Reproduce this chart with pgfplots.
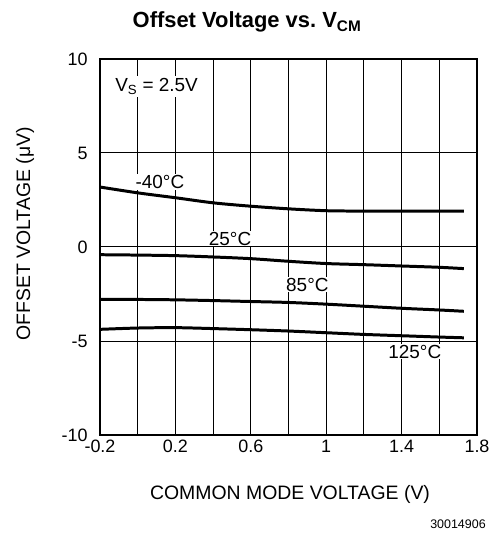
\documentclass[border=0pt]{standalone}
\usepackage{fontspec}
\setmainfont{Liberation Sans}
\usepackage{pgfplots}
\pgfplotsset{compat=1.18}
\begin{document}
\begin{tikzpicture}
\useasboundingbox (0bp,0bp) rectangle (491bp,533bp);
\begin{axis}[at={(100bp,98bp)}, anchor=south west, scale only axis,
  width=377bp, height=376bp,
  xmin=-0.2, xmax=1.8, ymin=-10, ymax=10,
  xtick={-0.2,0.2,0.6,1,1.4,1.8}, xticklabels={-0.2,0.2,0.6,1,1.4,1.8},
  minor xtick={0,0.4,0.8,1.2,1.6},
  ytick={-10,-5,0,5,10}, yticklabels={-10,-5,0,5,10},
  grid=both, grid style={black, line width=1pt}, minor grid style={black, line width=1pt},
  major tick length=0pt, minor tick length=0pt,
  axis line style={line width=1.5pt},
  tick label style={font=\fontsize{18}{20}\selectfont},
  xticklabel style={anchor=north, text height=13bp, text depth=0bp, yshift=-1bp},
  yticklabel style={anchor=east, xshift=-9bp},
]
\addplot[black, line width=3pt, smooth] coordinates {(-0.2,3.19)(0,2.88)(0.2,2.62)(0.4,2.35)(0.6,2.17)(0.8,2.03)(1.0,1.93)(1.2,1.91)(1.4,1.91)(1.6,1.91)(1.73,1.91)};
\addplot[black, line width=3pt, smooth] coordinates {(-0.2,-0.41)(0,-0.43)(0.2,-0.46)(0.4,-0.53)(0.6,-0.62)(0.8,-0.76)(1.0,-0.88)(1.2,-0.94)(1.4,-1.01)(1.6,-1.08)(1.73,-1.15)};
\addplot[black, line width=3pt, smooth] coordinates {(-0.2,-2.78)(0,-2.79)(0.2,-2.81)(0.4,-2.85)(0.6,-2.9)(0.8,-2.95)(1.0,-3.04)(1.2,-3.15)(1.4,-3.26)(1.6,-3.35)(1.73,-3.42)};
\addplot[black, line width=3pt, smooth] coordinates {(-0.2,-4.38)(0,-4.31)(0.2,-4.29)(0.4,-4.34)(0.6,-4.4)(0.8,-4.47)(1.0,-4.56)(1.2,-4.65)(1.4,-4.72)(1.6,-4.79)(1.73,-4.83)};
\node[fill=white, inner sep=1pt, font=\fontsize{19}{21}\selectfont] at (axis cs:0.118,3.46) {-40°C};
\node[fill=white, inner sep=1pt, font=\fontsize{19}{21}\selectfont] at (axis cs:0.49,0.45) {25°C};
\node[fill=white, inner sep=1pt, font=\fontsize{19}{21}\selectfont] at (axis cs:0.90,-2.0) {85°C};
\node[fill=white, inner sep=1pt, font=\fontsize{19}{21}\selectfont] at (axis cs:1.47,-5.57) {125°C};
\node[fill=white, inner sep=2pt, font=\fontsize{19}{21}\selectfont] at (axis cs:0.10,8.53) {V\textsubscript{S} = 2.5V};
\end{axis}
\node[anchor=base, font=\bfseries\fontsize{22}{24}\selectfont] at (247bp,505bp) {Offset Voltage vs.\ V\textsubscript{CM}};
\node[anchor=base, font=\fontsize{19.5}{22}\selectfont] at (290bp,34bp) {COMMON MODE VOLTAGE (V)};
\node[anchor=base, font=\fontsize{19.5}{22}\selectfont, rotate=90] at (30bp,299bp) {OFFSET VOLTAGE (μV)};
\node[anchor=base, font=\fontsize{12.5}{14}\selectfont] at (458bp,5bp) {30014906};
\end{tikzpicture}
\end{document}
